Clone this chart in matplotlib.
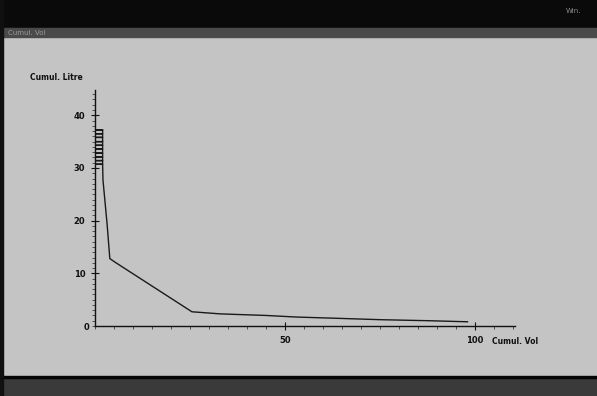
import matplotlib
matplotlib.use("Agg")
import matplotlib.pyplot as plt
from matplotlib.ticker import MultipleLocator

# curve (x = cumul. volume, y = cumul. litre)
# the start is a ladder: the trace runs back to x~0 and out to x~2 at each step
x_vals = [2.0, 0.2, 2.0, 2.0, 0.2, 2.0, 2.0, 0.2, 2.0, 2.0, 0.2, 2.0, 2.0, 0.2, 2.0,
          2.0, 0.2, 2.0, 2.0, 0.2, 2.0, 2.0, 0.2, 2.0, 2.0, 0.2, 2.0, 2.0, 0.2, 2.0,
          2.1, 3.2, 3.9, 5.3, 25.5, 33.0, 45.0, 53.0, 62.0, 75.0, 88.0, 98.0]
y_vals = [37.2, 37.2, 37.2, 36.5, 36.5, 36.5, 35.8, 35.8, 35.8, 35.0, 35.0, 35.0,
          34.3, 34.3, 34.3, 33.6, 33.6, 33.6, 32.8, 32.8, 32.8, 32.1, 32.1, 32.1,
          31.4, 31.4, 31.4, 30.7, 30.7, 30.7,
          27.7, 19.2, 12.8, 12.1, 2.7, 2.3, 2.0, 1.7, 1.5, 1.2, 1.0, 0.8]
y_ticks = [10, 20, 30, 40]
x_ticks = [50, 100]
x_label = "Cumul. Vol"
y_label = "Cumul. Litre"

bg = "#c4c4c4"
fig = plt.figure(figsize=(5.97, 3.96), dpi=100, facecolor=bg)

# window chrome: title bar, menu strip, bottom bar
fig.patches.append(plt.Rectangle((0, 1 - 28 / 396), 1, 28 / 396, transform=fig.transFigure,
                                 color="#0a0a0a", zorder=0))
fig.patches.append(plt.Rectangle((0, 1 - 37 / 396), 1, 9 / 396, transform=fig.transFigure,
                                 color="#4a4a4a", zorder=0))
fig.patches.append(plt.Rectangle((0, 0), 1, 19 / 396, transform=fig.transFigure,
                                 color="#3a3a3a", zorder=0))
fig.patches.append(plt.Rectangle((0, 18 / 396), 1, 2 / 396, transform=fig.transFigure,
                                 color="#050505", zorder=0))
fig.patches.append(plt.Rectangle((0, 0), 3 / 597, 1, transform=fig.transFigure,
                                 color="#101010", zorder=0))
fig.text(8 / 597, 1 - 33 / 396, "Cumul. Vol", fontsize=5, color="#9a9a9a", va="center")
fig.text(566 / 597, 1 - 11 / 396, "Win.", fontsize=5, color="#8a8a8a", va="center")

ax = fig.add_axes([95 / 597, 70 / 396, 420 / 597, 236 / 396])
ax.set_facecolor("none")
ax.plot(x_vals, y_vals, color="#1a1a1a", lw=1.0)

ax.set_xlim(0, 110.5)
ax.set_ylim(0, 44.8)
for s in ["top", "right"]:
    ax.spines[s].set_visible(False)
for s in ["left", "bottom"]:
    ax.spines[s].set_color("#111111")
    ax.spines[s].set_linewidth(1.0)

ax.set_yticks(y_ticks)
ax.set_xticks(x_ticks)
ax.yaxis.set_minor_locator(MultipleLocator(1))
ax.xaxis.set_minor_locator(MultipleLocator(5))
ax.tick_params(axis="both", which="major", direction="inout", length=6, width=0.8,
               colors="#111111", labelsize=6, pad=4)
ax.tick_params(axis="both", which="minor", direction="out", length=2, width=0.5,
               colors="#222222")
for lab in ax.get_xticklabels() + ax.get_yticklabels():
    lab.set_fontweight("bold")

fig.text(87 / 597, 1 - 328 / 396, "0", fontsize=6, fontweight="bold", color="#111111",
         ha="center", va="center")
fig.text(30 / 597, 1 - 78 / 396, y_label, fontsize=5.5, fontweight="bold", color="#111111",
         va="center")
fig.text(492 / 597, 1 - 342 / 396, x_label, fontsize=5.5, fontweight="bold", color="#111111",
         va="center")

fig.savefig("out.png", dpi=100, facecolor=bg)
